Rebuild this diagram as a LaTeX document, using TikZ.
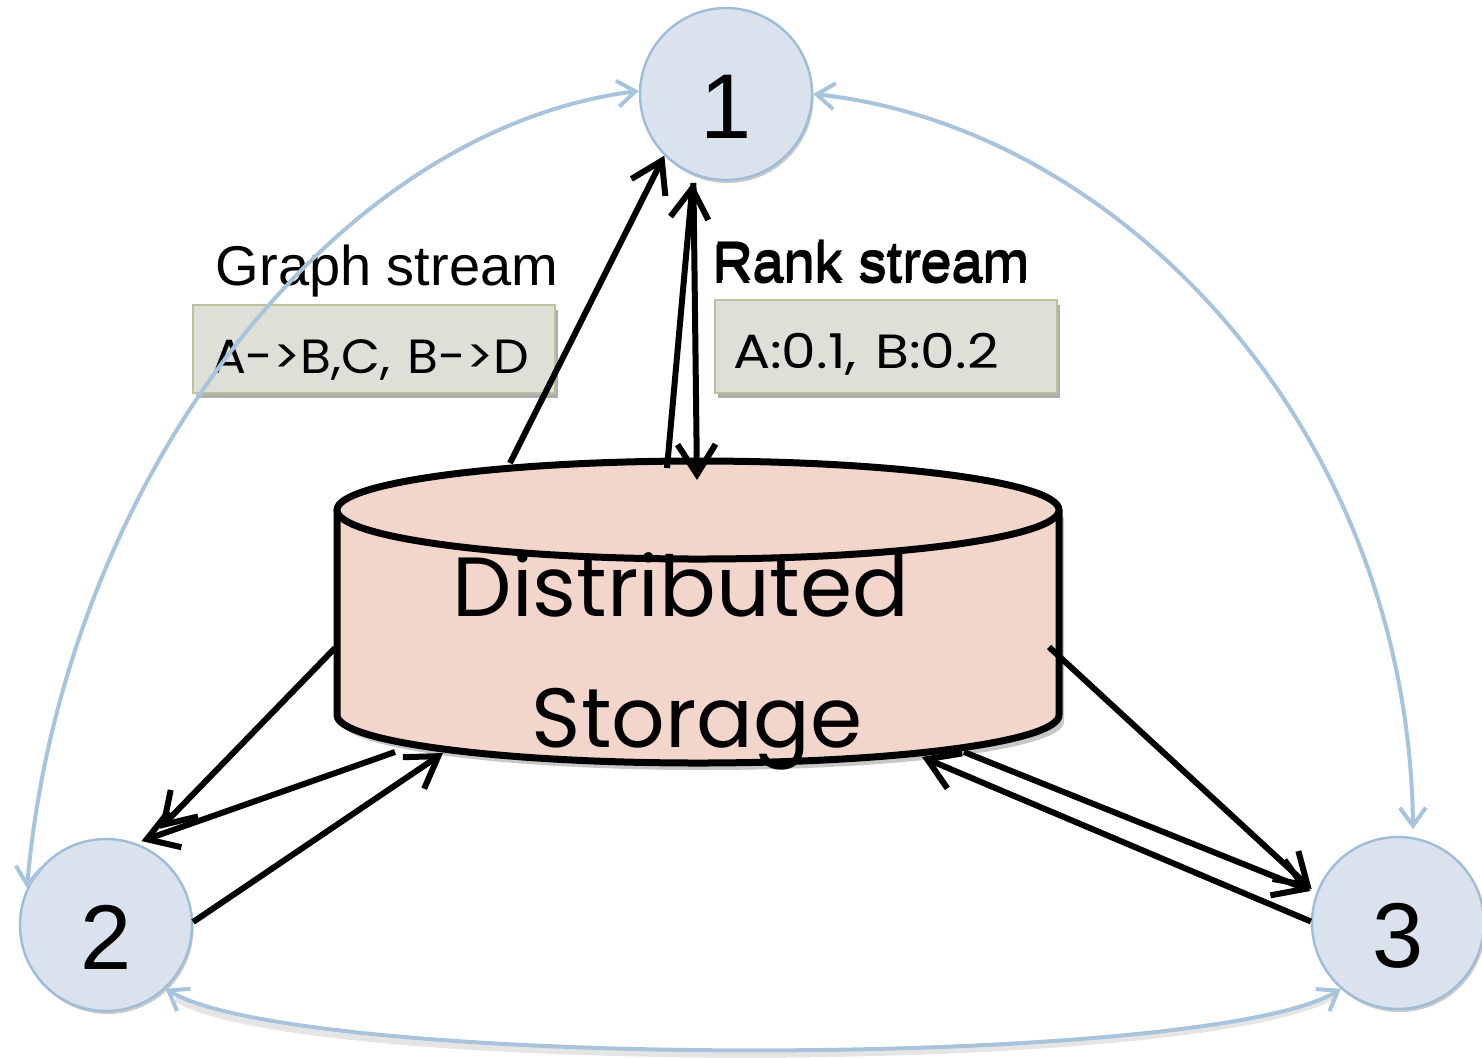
\documentclass[tikz,border=0pt]{standalone}
\usepackage{fontspec}
\setmainfont{Liberation Sans}
\newfontfamily\geo{Poppins}
\usetikzlibrary{arrows.meta,shadows,calc}

\definecolor{nodefill}{HTML}{DAE2ED}
\definecolor{nodeline}{HTML}{9FBDD8}
\definecolor{flow}{HTML}{A7C4DC}
\definecolor{diskfill}{HTML}{F2D6CC}
\definecolor{notefill}{HTML}{DEDFD6}
\definecolor{noteline}{HTML}{BBC29B}

\begin{document}
\begin{tikzpicture}[x=0.5pt, y=-0.5pt,
  worker/.style={circle, fill=nodefill, draw=nodeline, line width=1.2pt,
    minimum size=86pt, inner sep=0pt, font=\fontsize{46}{46}\selectfont,
    text height=44pt, text depth=0pt,
    drop shadow={shadow xshift=0.8pt, shadow yshift=-1.5pt, opacity=0.35, fill=black!60}},
  note/.style={rectangle, fill=notefill, draw=noteline, line width=1.2pt,
    font=\geo\fontsize{24}{24}\selectfont, align=left, inner ysep=0pt,
    drop shadow={shadow xshift=1.5pt, shadow yshift=-2.5pt, opacity=0.45, fill=black!70}},
  caption/.style={font=\fontsize{28}{28}\selectfont, inner sep=0pt, anchor=base},
  link/.style={draw=black, line width=3pt, -{Straight Barb[length=15pt, width=19pt]}},
  flowarc/.style={draw=flow, line width=2pt,
    {Straight Barb[length=9pt, width=13pt]}-{Straight Barb[length=9pt, width=13pt]}}]

\path[use as bounding box] (0,0) rectangle (1482,1057);

% storage cylinder
\fill[black, opacity=0.22] (342,517) -- (342,722)
  arc[start angle=180, end angle=360, x radius=180.5pt, y radius=24pt] -- (1064,517) -- cycle;
\fill[diskfill] (337,510) -- (337,715)
  arc[start angle=180, end angle=360, x radius=180.5pt, y radius=24pt] -- (1059,510) -- cycle;
\draw[line width=3.5pt, line join=round] (337,510) -- (337,715)
  arc[start angle=180, end angle=360, x radius=180.5pt, y radius=24pt] -- (1059,510);
\filldraw[fill=diskfill, line width=3.5pt] (698,510) ellipse[x radius=180.5pt, y radius=24.5pt];
\node[font=\geo\fontsize{42}{65.5}\selectfont, align=center, inner sep=0pt]
  (store) at (697,661) {Distributed\hspace*{16pt}\\Storage};

% attachment points on the cylinder
\coordinate (sg) at (510,463);
\coordinate (sr1) at (667,468);
\coordinate (sr2) at (697,480);
\coordinate (sl1) at (335,648);
\coordinate (sl2) at (395,752);
\coordinate (sl3) at (443,753);
\coordinate (sr3) at (1049,647);
\coordinate (sr4) at (964,752);
\coordinate (sr5) at (922,757);

% stream notes
\node[caption] (gtitle) at (387,285) {Graph stream};
\node[note, minimum height=44pt, text height=28pt, text depth=4pt,
  inner xsep=9.5pt, text width=162pt] (gbox) at (374,349)
  {\scalebox{1.05}[1]{A-{}>B,C, B-{}>D}};
\node[caption] (rtitleb) at (872,280) {Rank stream};
\node[caption] (rtitle) at (871,283) {Rank stream};
\node[note, minimum height=46.5pt, text height=26pt, text depth=4.5pt,
  inner xsep=9pt, text width=153pt] (rbox) at (886,346.5)
  {\scalebox{1.15}[1]{A:0.1, B:0.2}};

% workers
\node[worker] (n1) at (726,94) {1};
\node[worker] (n2) at (106,925) {2};
\node[worker] (n3) at (1398,923) {3};

% storage links
\draw[link] (sg) -- (n1.225);
\draw[link, shorten >=4pt] (sr1) -- (n1.248);
\draw[link, shorten <=4pt] (n1.248) -- (sr2);
\draw[link, shorten >=12pt] (sl1) -- (n2.65);
\draw[link, shorten >=3pt] (sl2) -- (n2.70);
\draw[link] (n2.2) -- (sl3);
\draw[link, shorten >=3pt] (sr3) -- (n3.160);
\draw[link, shorten >=3pt] (sr4) -- (n3.160);
\draw[link] (n3.179) -- (sr5);

% worker-to-worker exchange
\draw[flowarc] (n2.155) .. controls (62,485) and (331,130) .. (n1.178);
\draw[flowarc, shorten >=4pt] (n1.east) .. controls (1121,127) and (1408,430) .. (n3.80);
\draw[black, opacity=0.1, line width=3pt] (176,999) .. controls (303,1074) and (1213,1074) .. (1337,994);
\draw[flowarc] (n2.313) .. controls (300,1070) and (1210,1070) .. (n3.229);
\end{tikzpicture}
\end{document}
